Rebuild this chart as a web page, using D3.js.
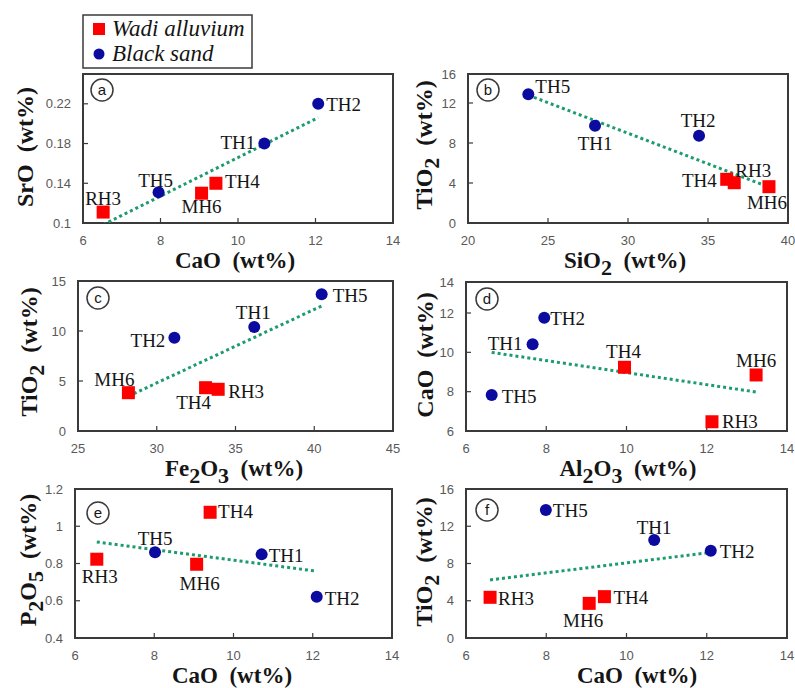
<!DOCTYPE html>
<html><head><meta charset="utf-8">
<script src="https://cdn.jsdelivr.net/npm/d3@7"></script>
<style>body{margin:0;background:#fff} svg{display:block}</style>
</head><body>
<svg id="chart" width="795" height="688"></svg>
<script>
// ---------------- DATA ----------------
const samples = ["TH1", "TH2", "TH5", "TH4", "MH6", "RH3"];
const sampleGroups = ["Black sand", "Black sand", "Black sand", "Wadi alluvium", "Wadi alluvium", "Wadi alluvium"];
const legendItems = ["Wadi alluvium", "Black sand"];

// (a) CaO vs SrO
const caoA  = [10.68, 12.07, 7.95, 9.43, 9.06, 6.52];
const sroA  = [0.18, 0.22, 0.131, 0.14, 0.13, 0.111];
// (b) SiO2 vs TiO2
const sio2B = [27.94, 34.44, 23.77, 36.17, 38.81, 36.64];
const tio2B = [9.73, 8.73, 13.2, 4.37, 3.63, 4.03];
// (c) Fe2O3 vs TiO2
const fe2o3C = [36.19, 31.12, 40.47, 33.1, 28.2, 33.9];
const tio2C  = [10.4, 9.33, 13.67, 4.33, 3.83, 4.17];
// (d) Al2O3 vs CaO
const al2o3D = [7.66, 7.95, 6.64, 9.95, 13.23, 12.13];
const caoD   = [10.41, 11.76, 7.83, 9.24, 8.85, 6.47];
// (e) CaO vs P2O5
const caoE  = [10.71, 12.1, 8.02, 9.41, 9.07, 6.55];
const p2o5E = [0.849, 0.622, 0.86, 1.075, 0.796, 0.823];
// (f) CaO vs TiO2
const caoF  = [10.69, 12.1, 7.99, 9.45, 9.07, 6.6];
const tio2F = [10.53, 9.38, 13.75, 4.44, 3.72, 4.37];

// tick labels
const ticksCaO   = [6, 8, 10, 12, 14];
const ticksSrO   = [0.1, 0.14, 0.18, 0.22];
const ticksSiO2  = [20, 25, 30, 35, 40];
const ticksTiO2  = [0, 4, 8, 12, 16];
const ticksFe2O3 = [25, 30, 35, 40, 45];
const ticksTiO2c = [0, 5, 10, 15];
const ticksAl2O3 = [6, 8, 10, 12, 14];
const ticksCaOy  = [6, 8, 10, 12, 14];
const ticksP2O5  = [0.4, 0.6, 0.8, 1, 1.2];

// ---------------- LAYOUT / STYLE ----------------
const panels = [
  {id:"a", x:caoA, y:sroA, xDom:[6,14], yDom:[0.1,0.25], xT:ticksCaO, yT:ticksSrO,
   xTitle:"CaO  (wt%)", yTitle:"SrO  (wt%)", f:{l:83,r:393,t:74,b:223}, yRange:null,
   xTitleX:235, yTitleX:33, yTitleY:147, letter:[19,16],
   lab:{TH2:["start",8,7],TH1:["end",-9,5],TH5:["middle",-3,-5],TH4:["start",9,5],MH6:["middle",0,20],RH3:["middle",0,-7]}},
  {id:"b", x:sio2B, y:tio2B, xDom:[20,40], yDom:[0,12,16], yRange:[223,103,74], xT:ticksSiO2, yT:ticksTiO2,
   xTitle:"SiO_2  (wt%)", yTitle:"TiO_2  (wt%)", f:{l:468,r:788,t:74,b:223},
   xTitleX:625, yTitleX:432, yTitleY:145, letter:[20,16],
   lab:{TH5:["start",7,-1],TH1:["middle",0,24],TH2:["middle",-1,-9],TH4:["end",-10,8],RH3:["start",1,-6],MH6:["middle",-2,22]}},
  {id:"c", x:fe2o3C, y:tio2C, xDom:[25,45], yDom:[0,15], yRange:null, xT:ticksFe2O3, yT:ticksTiO2c,
   xTitle:"Fe_2O_3  (wt%)", yTitle:"TiO_2  (wt%)", f:{l:78,r:393,t:281,b:431},
   xTitleX:234, yTitleX:37, yTitleY:352, letter:[20,17],
   lab:{TH5:["start",11,8],TH1:["middle",-1,-8],TH2:["end",-9,9],MH6:["middle",-14,-7],TH4:["middle",-12,21],RH3:["start",10,9]}},
  {id:"d", x:al2o3D, y:caoD, xDom:[6,14], yDom:[6,12,14], yRange:[431,313,282], xT:ticksAl2O3, yT:ticksCaOy,
   xTitle:"Al_2O_3  (wt%)", yTitle:"CaO  (wt%)", f:{l:466,r:787,t:282,b:431},
   xTitleX:628, yTitleX:433, yTitleY:355, letter:[21,17],
   lab:{TH2:["start",6,7],TH1:["end",-10,6],TH5:["start",10,8],TH4:["middle",-1,-9],MH6:["middle",0,-8],RH3:["start",10,6]}},
  {id:"e", x:caoE, y:p2o5E, xDom:[6,14], yDom:[0.4,1.2], yRange:null, xT:ticksCaO, yT:ticksP2O5,
   xTitle:"CaO  (wt%)", yTitle:"P_2O_5  (wt%)", f:{l:75,r:392,t:489,b:638},
   xTitleX:232, yTitleX:36, yTitleY:560, letter:[23,24],
   lab:{TH4:["start",8,6],TH5:["middle",0,-7],TH1:["start",7,8],RH3:["middle",3,24],MH6:["middle",3,26],TH2:["start",8,8]}},
  {id:"f", x:caoF, y:tio2F, xDom:[6,14], yDom:[0,16], yRange:null, xT:ticksCaO, yT:ticksTiO2,
   xTitle:"CaO  (wt%)", yTitle:"TiO_2  (wt%)", f:{l:466,r:787,t:489,b:638},
   xTitleX:637, yTitleX:432, yTitleY:562, letter:[21,21],
   lab:{TH5:["start",7,7],TH1:["middle",0,-6],TH2:["start",9,7],RH3:["start",8,8],MH6:["middle",-6,24],TH4:["start",9,7]}}
];

const RED = "#ff0000", BLUE = "#0b0b9f", TREND = "#1c9c6c", FRAME = "#3a3a3a";
const TXT = "#151515", TICK = "#595959";
const SERIF = "'Liberation Serif','Times New Roman',serif";
const SANS = "'Liberation Sans',Arial,sans-serif";

const svg = d3.select("#chart");

const parseChem = s => s.split(/(_\d)/).filter(d => d).map(d => d[0] === "_" ? {t:d.slice(1), sub:true} : {t:d, sub:false});
function chemText(sel, str, subDy) {
  let prevSub = false;
  parseChem(str).forEach(s => {
    const ts = sel.append("tspan").text(s.t);
    if (s.sub) ts.attr("dy", subDy).attr("font-size", 22);
    else if (prevSub) ts.attr("dy", -subDy);
    prevSub = s.sub;
  });
}

function linreg(xs, ys) {
  const mx = d3.mean(xs), my = d3.mean(ys);
  let sxy = 0, sxx = 0;
  xs.forEach((x, i) => { sxy += (x - mx) * (ys[i] - my); sxx += (x - mx) * (x - mx); });
  const m = sxy / sxx;
  return x => my + m * (x - mx);
}

panels.forEach(p => {
  const g = svg.append("g");
  const F = p.f;
  const xs = d3.scaleLinear().domain(p.xDom).range([F.l, F.r]);
  const ys = d3.scaleLinear().domain(p.yDom).range(p.yRange || [F.b, F.t]);

  g.append("clipPath").attr("id", "clip-" + p.id)
    .append("rect").attr("x", F.l).attr("y", F.t).attr("width", F.r - F.l).attr("height", F.b - F.t);

  // ticks (inward)
  g.selectAll(".yt").data(p.yT).join("line")
    .attr("x1", F.l).attr("x2", F.l + 5).attr("y1", d => ys(d)).attr("y2", d => ys(d))
    .attr("stroke", FRAME).attr("stroke-width", 1.2);
  g.selectAll(".xt").data(p.xT).join("line")
    .attr("y1", F.b).attr("y2", F.b - 5).attr("x1", d => xs(d)).attr("x2", d => xs(d))
    .attr("stroke", FRAME).attr("stroke-width", 1.2);

  // tick labels
  g.selectAll(".ytl").data(p.yT).join("text")
    .attr("x", F.l - 12).attr("y", d => ys(d)).attr("dy", "0.35em")
    .attr("text-anchor", "end").attr("font-family", SANS).attr("font-size", 13).attr("fill", TICK)
    .text(d => String(d));
  g.selectAll(".xtl").data(p.xT).join("text")
    .attr("x", d => xs(d)).attr("y", F.b + 22)
    .attr("text-anchor", "middle").attr("font-family", SANS).attr("font-size", 13).attr("fill", TICK)
    .text(d => String(d));

  // frame
  g.append("rect").attr("x", F.l).attr("y", F.t).attr("width", F.r - F.l).attr("height", F.b - F.t)
    .attr("fill", "none").attr("stroke", FRAME).attr("stroke-width", 2);

  // trend line (least squares over all samples)
  const fit = linreg(p.x, p.y);
  const [x0, x1] = d3.extent(p.x);
  g.append("path").attr("clip-path", `url(#clip-${p.id})`)
    .attr("d", d3.line()([[xs(x0), ys(fit(x0))], [xs(x1), ys(fit(x1))]]))
    .attr("fill", "none").attr("stroke", TREND).attr("stroke-width", 3).attr("stroke-dasharray", "3,3");

  // points
  const pts = samples.map((s, i) => ({s, grp: sampleGroups[i], x: p.x[i], y: p.y[i]}));
  pts.forEach(d => {
    const cx = xs(d.x), cy = ys(d.y);
    if (d.grp === "Wadi alluvium") {
      g.append("rect").attr("x", cx - 6.5).attr("y", cy - 6.5).attr("width", 13).attr("height", 13).attr("fill", RED);
    } else {
      g.append("circle").attr("cx", cx).attr("cy", cy).attr("r", 6).attr("fill", BLUE);
    }
    const L = p.lab[d.s];
    g.append("text").attr("x", cx + L[1]).attr("y", cy + L[2]).attr("text-anchor", L[0])
      .attr("font-family", SERIF).attr("font-size", 19).attr("fill", TXT).text(d.s);
  });

  // panel letter
  g.append("circle").attr("cx", F.l + p.letter[0]).attr("cy", F.t + p.letter[1]).attr("r", 11)
    .attr("fill", "#fff").attr("stroke", FRAME).attr("stroke-width", 1.5);
  g.append("text").attr("x", F.l + p.letter[0]).attr("y", F.t + p.letter[1]).attr("dy", "0.35em")
    .attr("text-anchor", "middle").attr("font-family", SANS).attr("font-size", 15).attr("fill", TXT).text(p.id);

  // axis titles
  const xt = g.append("text").attr("x", p.xTitleX).attr("y", F.b + 45).attr("text-anchor", "middle")
    .attr("font-family", SERIF).attr("font-weight", "bold").attr("font-size", 23).attr("fill", TXT)
    .style("white-space", "pre");
  chemText(xt, p.xTitle, 7);
  const yt = g.append("text").attr("transform", `translate(${p.yTitleX},${p.yTitleY}) rotate(-90)`)
    .attr("text-anchor", "middle")
    .attr("font-family", SERIF).attr("font-weight", "bold").attr("font-size", 24).attr("fill", TXT)
    .style("white-space", "pre");
  chemText(yt, p.yTitle, 7);
});

// legend
const lg = svg.append("g");
lg.append("rect").attr("x", 83).attr("y", 15).attr("width", 169).attr("height", 53)
  .attr("fill", "#fff").attr("stroke", FRAME).attr("stroke-width", 1.5);
legendItems.forEach((name, i) => {
  const cy = 29 + i * 25;
  if (name === "Wadi alluvium") {
    lg.append("rect").attr("x", 93).attr("y", cy - 6).attr("width", 12).attr("height", 12).attr("fill", RED);
  } else {
    lg.append("circle").attr("cx", 99).attr("cy", cy).attr("r", 5.5).attr("fill", BLUE);
  }
  lg.append("text").attr("x", 112).attr("y", cy + 7).attr("font-family", SERIF).attr("font-style", "italic")
    .attr("font-size", 23).attr("fill", TXT).text(name);
});
</script>
</body></html>
